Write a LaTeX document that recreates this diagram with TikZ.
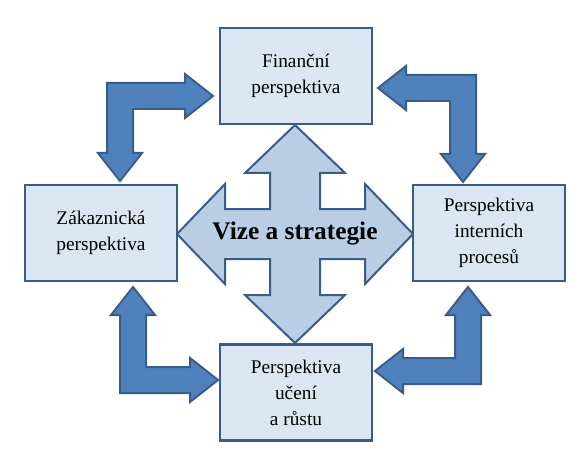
\documentclass[tikz,border=0pt]{standalone}
\usepackage{fontspec}
\setmainfont{Liberation Serif}
\usepackage{xcolor}
\usepackage{tikz}
\definecolor{boxfill}{HTML}{DCE6F2}
\definecolor{boxline}{HTML}{385D8A}
\definecolor{crossfill}{HTML}{B9CDE5}
\definecolor{bentfill}{HTML}{4F81BD}
\newcommand{\bentarrow}[2]{%
  (0,0) -- (#1-28,0) -- (#1-28,-9) -- (#1,13) -- (#1-28,35) -- (#1-28,26)
  -- (26,26) -- (26,#2-28) -- (35,#2-28) -- (13,#2) -- (-9,#2-28) -- (0,#2-28) -- cycle
}
\newcommand{\crossarrow}{%
  (0,-109) -- (50,-61) -- (25,-61) -- (25,-25) -- (70,-25) -- (70,-50) -- (118,0)
  -- (70,50) -- (70,25) -- (25,25) -- (25,61) -- (50,61) -- (0,109)
  -- (-50,61) -- (-25,61) -- (-25,25) -- (-70,25) -- (-70,50) -- (-118,0)
  -- (-70,-50) -- (-70,-25) -- (-25,-25) -- (-25,-61) -- (-50,-61) -- cycle
}
\tikzset{
  persp/.style={draw=boxline, fill=boxfill, line width=2pt, align=center,
    minimum width=114pt, minimum height=72pt, inner sep=2pt,
    font=\fontsize{14.5}{19.5}\selectfont},
  bent/.style={draw=boxline, fill=bentfill, line width=1.5pt},
  cross/.style={draw=boxline, fill=crossfill, line width=1.5pt}
}
\begin{document}
\begin{tikzpicture}[x=0.75pt, y=-0.75pt]
   \useasboundingbox (0,0) rectangle (584,463);
   \draw[cross, shift={(295,234)}] \crossarrow;
   \node[font=\fontsize{19}{23}\bfseries] (vize) at (295,234) {Vize a strategie};
   \node[persp] (financni) at (296,76) {Finanční\\perspektiva};
   \node[persp] (zakaznicka) at (101,233) {Zákaznická\\perspektiva};
   \node[persp] (interni) at (489,233) {Perspektiva\\interních\\procesů};
   \node[persp] (uceni) at (296,392.5) {Perspektiva\\učení\\a růstu};
   \draw[bent, shift={(107,83)}] \bentarrow{106}{98};
   \draw[bent, shift={(476,75)}, xscale=-1] \bentarrow{98}{107};
   \draw[bent, shift={(120,393)}, yscale=-1] \bentarrow{98}{106};
   \draw[bent, shift={(481,384)}, xscale=-1, yscale=-1] \bentarrow{106}{97};
\end{tikzpicture}
\end{document}
